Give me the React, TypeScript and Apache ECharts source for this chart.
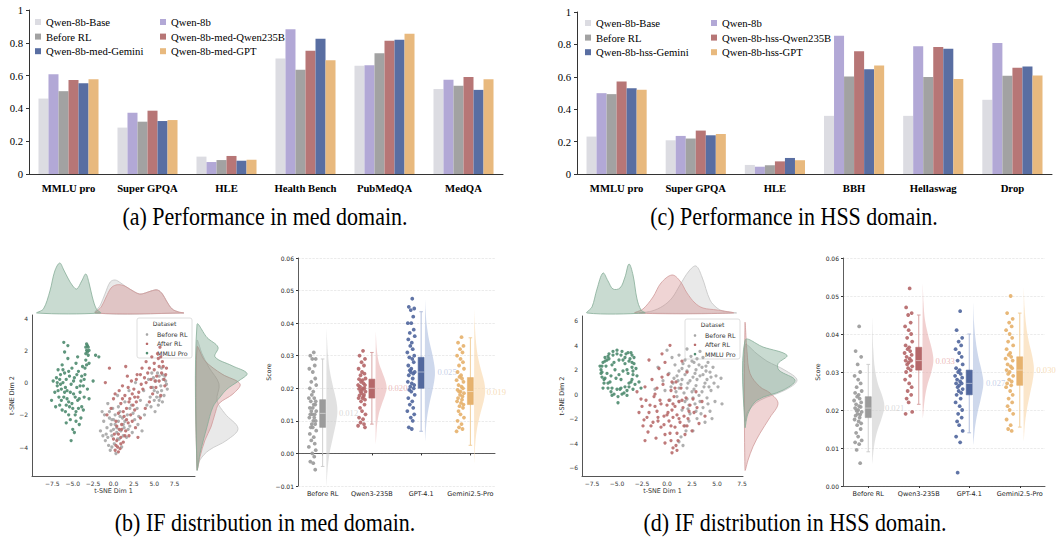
import React, { useEffect, useRef } from "react";
import * as echarts from "echarts";

const SERIF = '"Liberation Serif", "Times New Roman", serif';
const SANS = '"DejaVu Sans", "Liberation Sans", sans-serif';

// ---------------- (a)/(c) bar charts ----------------
const MED_CATEGORIES = ["MMLU pro", "Super GPQA", "HLE", "Health Bench", "PubMedQA", "MedQA"];
const HSS_CATEGORIES = ["MMLU pro", "Super GPQA", "HLE", "BBH", "Hellaswag", "Drop"];
const MED_MODELS = ["Qwen-8b-Base", "Qwen-8b", "Before RL", "Qwen-8b-med-Qwen235B", "Qwen-8b-med-Gemini", "Qwen-8b-med-GPT"];
const HSS_MODELS = ["Qwen-8b-Base", "Qwen-8b", "Before RL", "Qwen-8b-hss-Qwen235B", "Qwen-8b-hss-Gemini", "Qwen-8b-hss-GPT"];
const BAR_COLORS = ["#dcdce2", "#b2a8d6", "#a2a2a2", "#b77676", "#596ea2", "#e8b97e"];

const MED_BASE = [0.46, 0.283, 0.106, 0.705, 0.66, 0.518];
const MED_QWEN8B = [0.608, 0.374, 0.073, 0.882, 0.663, 0.575];
const MED_BEFORE_RL = [0.505, 0.319, 0.085, 0.636, 0.737, 0.538];
const MED_QWEN235B = [0.573, 0.386, 0.11, 0.752, 0.812, 0.591];
const MED_GEMINI = [0.553, 0.323, 0.081, 0.825, 0.818, 0.513];
const MED_GPT = [0.577, 0.329, 0.087, 0.694, 0.855, 0.577];

const HSS_BASE = [0.231, 0.208, 0.056, 0.359, 0.359, 0.458];
const HSS_QWEN8B = [0.499, 0.235, 0.045, 0.854, 0.788, 0.808];
const HSS_BEFORE_RL = [0.493, 0.219, 0.054, 0.602, 0.598, 0.606];
const HSS_QWEN235B = [0.571, 0.268, 0.078, 0.757, 0.784, 0.656];
const HSS_GEMINI = [0.53, 0.239, 0.099, 0.647, 0.773, 0.664];
const HSS_GPT = [0.52, 0.247, 0.085, 0.67, 0.586, 0.608];

const MED_VALUES = [MED_BASE, MED_QWEN8B, MED_BEFORE_RL, MED_QWEN235B, MED_GEMINI, MED_GPT];
const HSS_VALUES = [HSS_BASE, HSS_QWEN8B, HSS_BEFORE_RL, HSS_QWEN235B, HSS_GEMINI, HSS_GPT];

// ---------------- t-SNE scatter ----------------
const TSNE_LEGEND = ["Before RL", "After RL", "MMLU Pro"];
const TSNE_COLORS = ["#a6a6a6", "#b86b6b", "#4e8b6f"];
const KDE_FILLS = ["rgba(175,175,175,0.28)", "rgba(205,120,120,0.32)", "rgba(90,145,115,0.33)"];
const KDE_STROKES = ["#c4c4c4", "#d19a9a", "#86ad98"];

const MED_TSNE_BEFORE = [[-1.0,-3.6],[-0.6,-3.9],[-0.2,-3.3],[0.1,-3.8],[0.4,-3.1],[-0.8,-2.8],[-0.3,-2.6],[0.0,-2.9],[0.6,-2.4],[0.9,-3.0],[1.3,-2.8],[-0.5,-2.2],[0.2,-2.0],[1.1,-2.2],[1.6,-3.4],[2.0,-2.7],[-1.2,-2.4],[-1.4,-1.8],[-0.1,-1.6],[0.8,-1.8],[1.7,-2.0],[2.3,-3.1],[2.6,-2.3],[0.3,-4.4],[1.0,-4.0],[-0.7,-1.3],[1.4,-1.2],[2.9,-1.6],[3.3,-1.1],[3.7,-0.5],[4.1,-1.4],[4.5,-0.9],[4.8,-0.3],[5.0,-1.1],[5.2,0.1],[5.4,-0.6],[5.6,0.4],[5.8,-0.2],[6.0,0.5],[6.2,-0.8],[6.4,0.1],[5.5,-1.4],[4.7,0.6],[5.9,0.9],[4.3,0.2],[3.8,-2.0],[3.0,-2.6],[2.2,-1.4],[0.5,-0.8],[1.9,-0.5],[-1.6,-3.0],[-0.4,-4.2],[3.5,-3.0],[6.6,-0.4],[5.1,-1.8],[2.7,0.0],[-0.9,-3.2],[0.7,-3.5],[-0.2,-2.3],[1.2,-2.6],[5.7,-0.9],[6.1,0.2],
  [-0.7,-3.4],[-0.3,-3.0],[0.2,-2.6],[0.5,-3.5],[0.8,-2.1],[1.4,-2.4],[-1.1,-2.0],[0.0,-2.3],[-0.5,-1.8],[1.8,-2.9],[0.6,-1.5],[1.2,-3.3],[-0.2,-4.0],[0.4,-2.8],[2.4,-1.9],[5.3,-0.9],[5.9,-0.5],[6.3,0.4],[5.0,-0.5],[5.6,-1.1],[6.0,-1.2],[4.6,-1.5],[5.4,0.6],[6.5,-0.1],[4.9,0.3],[3.1,-2.1],[2.0,-1.6],[-1.3,-3.3]];
const MED_TSNE_AFTER = [[0.2,-4.2],[0.5,-4.0],[0.8,-4.1],[0.4,-3.6],[0.9,-3.4],[1.2,-3.7],[0.1,-3.2],[0.7,-2.9],[1.5,-3.0],[1.0,-2.6],[0.3,-2.4],[1.8,-2.5],[1.3,-2.1],[0.6,-1.9],[2.1,-2.0],[-0.3,-1.6],[1.6,-1.6],[2.4,-1.4],[0.9,-1.3],[2.0,-1.0],[2.8,-1.2],[1.4,-0.8],[3.1,-0.6],[2.5,-0.4],[0.2,-0.7],[1.1,-0.2],[3.4,-0.1],[2.2,0.1],[3.8,0.3],[2.9,0.5],[4.2,0.6],[1.7,0.4],[4.6,0.2],[3.5,0.9],[5.0,0.8],[5.3,0.4],[5.6,1.0],[5.9,0.6],[6.2,0.2],[5.5,1.5],[6.0,1.3],[6.3,-0.2],[5.2,-0.3],[4.8,-0.7],[4.4,-1.2],[3.9,-1.6],[3.3,-2.2],[2.7,-2.8],[1.9,-3.3],[0.0,-1.0],[-0.8,-2.0],[-1.0,0.0],[4.0,1.3],[4.7,1.6],[6.5,0.9],[5.8,-0.8],[3.0,-3.4],[1.5,1.0],[-0.5,0.9],[5.7,2.2],[0.6,-4.3],[1.1,-1.0],[2.6,-0.9],[5.1,0.1],
  [0.3,-3.9],[0.9,-3.8],[0.0,-3.5],[0.6,-3.2],[1.4,-3.3],[1.0,-2.9],[0.4,-2.7],[1.6,-2.3],[2.3,-2.4],[1.2,-1.8],[2.6,-1.7],[1.9,-1.2],[3.0,-0.9],[2.3,-0.7],[3.6,-0.4],[2.8,0.2],[4.0,0.0],[4.4,0.9],[5.0,1.2],[5.4,1.8],[5.8,1.6],[6.1,1.0],[6.4,0.5],[5.6,0.1],[4.6,-0.3],[3.3,0.5],[1.8,-0.3],[0.7,-0.5]];
const MED_TSNE_MMLU = [[-7.6,-1.1],[-7.2,-0.6],[-7.0,0.3],[-6.9,-0.2],[-6.8,0.8],[-6.6,-1.4],[-6.5,0.5],[-6.4,-0.4],[-6.3,1.1],[-6.2,0.0],[-6.1,-0.9],[-6.0,0.6],[-5.9,-1.8],[-5.8,0.2],[-5.7,-0.5],[-5.6,1.5],[-5.5,-1.2],[-5.4,0.4],[-5.3,-2.3],[-5.2,-0.1],[-5.1,0.9],[-5.0,-1.6],[-4.9,-0.7],[-4.8,0.3],[-4.7,-2.0],[-4.6,1.2],[-4.5,-0.3],[-4.4,-1.1],[-4.3,0.7],[-4.2,-2.6],[-4.1,-0.6],[-4.0,0.1],[-3.9,-1.5],[-3.8,1.0],[-3.7,-0.2],[-3.6,-0.9],[-3.5,0.5],[-3.4,1.4],[-3.3,2.0],[-3.2,2.3],[-3.4,1.8],[-3.1,1.7],[-3.3,2.4],[-3.0,1.2],[-3.5,0.9],[-3.2,-0.4],[-3.0,-1.0],[-6.7,-0.9],[-6.3,-1.7],[-5.8,-2.5],[-5.0,-2.9],[-4.8,-3.1],[-6.1,2.5],[-5.6,2.3],[-2.5,0.1],[-1.8,1.6],[-2.2,1.7],[-7.4,0.1],[-6.0,1.9],[-4.4,1.6],[-5.2,-3.6],[-4.6,-1.8],[-5.4,-1.5],[-6.5,-0.1],[-4.0,-2.2],[-3.7,-1.7],
  [-7.1,-1.5],[-6.9,0.0],[-6.6,0.2],[-6.4,-1.1],[-6.2,0.8],[-5.9,-0.3],[-5.7,-1.0],[-5.5,0.7],[-5.3,-0.6],[-5.1,-1.3],[-4.9,0.1],[-4.7,-0.9],[-4.5,0.5],[-4.3,-1.6],[-4.1,-0.2],[-3.9,0.4],[-3.6,0.2],[-3.3,1.1],[-3.1,2.2],[-3.2,1.9],[-3.4,2.2],[-3.0,2.0],[-5.8,-1.4],[-6.0,-0.6],[-4.6,-2.4],[-5.5,-2.0],[-6.8,-0.5],[-4.2,-1.0]];

const HSS_TSNE_BEFORE = [[0.5,3.0],[1.2,3.2],[1.8,2.8],[2.4,3.1],[3.0,2.9],[3.6,3.0],[4.1,2.6],[4.6,2.2],[0.8,2.4],[1.5,2.1],[2.2,2.3],[2.9,2.0],[3.5,2.2],[4.3,1.8],[4.9,1.5],[0.2,1.7],[1.0,1.5],[1.8,1.6],[2.6,1.4],[3.3,1.5],[4.0,1.2],[4.7,0.9],[-0.4,1.1],[0.6,0.9],[1.4,0.8],[2.1,0.9],[2.9,0.7],[3.7,0.6],[4.4,0.3],[5.1,0.6],[-0.2,0.3],[0.9,0.2],[1.7,0.1],[2.5,0.2],[3.2,-0.1],[4.0,-0.3],[4.8,-0.6],[0.3,-0.5],[1.2,-0.6],[2.0,-0.4],[2.8,-0.8],[3.6,-1.1],[4.3,-1.4],[1.5,-1.3],[2.3,-1.6],[3.0,-2.0],[3.8,-2.3],[1.8,-2.6],[2.6,-3.0],[1.4,-3.5],[1.6,-4.2],[1.2,-3.9],[5.4,1.3],[5.5,-0.8],[-0.9,2.2],[0.0,3.6],[3.3,3.5],[2.0,3.7],[-1.2,0.4],[4.5,-2.0],[2.7,2.6],[3.9,1.9],[1.1,1.1],[2.2,-0.9],
  [1.6,2.5],[2.5,2.7],[3.2,2.4],[3.9,2.3],[1.2,1.9],[2.0,1.9],[2.8,1.7],[3.6,1.6],[4.4,1.4],[0.7,1.3],[1.5,1.2],[2.3,1.1],[3.0,1.2],[3.8,0.9],[0.4,0.6],[1.2,0.5],[2.0,0.5],[2.7,0.4],[3.5,0.2],[4.2,0.6],[1.0,-0.2],[1.8,-0.6],[2.6,-0.3],[3.3,-0.6],[4.1,-0.8],[2.1,-1.2],[2.9,-1.4],[3.4,-1.6],[2.2,-2.2],[1.9,-3.0]];
const HSS_TSNE_AFTER = [[-2.8,-1.5],[-2.6,-0.4],[-2.4,-2.6],[-2.2,0.6],[-2.0,-1.9],[-1.9,-3.1],[-1.7,-0.9],[-1.5,1.2],[-1.4,-2.3],[-1.2,0.0],[-1.1,-3.6],[-1.0,-1.4],[-0.8,2.1],[-0.7,-0.5],[-0.6,-2.7],[-0.4,0.8],[-0.3,-1.8],[-0.2,-4.0],[0.0,-0.9],[0.1,1.6],[0.2,-2.2],[0.3,-3.2],[0.4,0.3],[0.5,-1.3],[0.6,-4.4],[0.7,-0.2],[0.8,-2.7],[0.9,1.0],[1.0,-1.7],[1.1,-3.8],[1.2,-0.6],[1.3,-2.3],[1.4,0.5],[1.6,-1.1],[1.8,-3.3],[1.9,-0.3],[2.1,-2.0],[2.3,-0.9],[2.5,-3.0],[2.7,-1.5],[2.9,0.2],[3.2,-2.4],[3.5,-0.6],[3.8,-1.8],[-0.5,3.3],[-1.8,2.8],[0.3,4.0],[-3.0,0.2],[0.5,-4.8],[1.0,-4.6],[-0.2,2.6],[2.0,1.8],[-2.2,-3.8],[1.5,2.7],[-1.3,-0.2],[0.8,0.5],[0.1,-1.5],[-0.9,-2.2],[0.6,-0.8],[1.7,-2.6],
  [-2.5,-1.0],[-2.1,-0.5],[-1.8,-1.5],[-1.6,-2.6],[-1.2,-1.0],[-0.9,-1.9],[-0.6,-0.8],[-0.3,-2.5],[0.0,-1.7],[0.2,-0.5],[0.4,-2.6],[0.6,-1.9],[0.8,-1.0],[1.0,-3.2],[1.2,-2.0],[1.5,-0.5],[1.7,-1.8],[2.0,-2.6],[2.2,-1.4],[2.6,-0.4],[-0.2,-3.3],[0.4,-3.8],[0.9,-4.2],[-1.0,0.5],[-0.5,1.4],[0.5,1.0],[-2.3,-2.1],[3.0,-1.1]];
const HSS_TSNE_MMLU = [[-6.6,2.0],[-6.5,1.4],[-6.4,2.6],[-6.3,0.9],[-6.2,3.0],[-6.0,1.7],[-5.9,0.5],[-5.8,3.3],[-5.6,0.2],[-5.5,2.4],[-5.4,3.5],[-5.3,0.0],[-5.1,1.3],[-5.0,3.6],[-4.9,-0.2],[-4.8,2.8],[-4.7,0.4],[-4.5,3.5],[-4.4,1.9],[-4.3,0.1],[-4.1,3.3],[-4.0,0.3],[-3.9,3.4],[-3.8,0.6],[-3.7,2.9],[-3.6,1.0],[-3.5,3.2],[-3.4,1.6],[-3.3,2.5],[-3.2,0.8],[-3.1,2.1],[-3.0,1.5],[-2.8,1.0],[-6.6,1.7],[-6.1,2.3],[-5.7,1.0],[-5.2,2.0],[-4.6,1.2],[-4.2,2.5],[-3.9,1.7],[-5.5,-0.1],[-4.9,-0.7],[-6.4,0.5],[-6.7,2.3],[-3.4,0.4],[-3.6,3.4],[-5.9,3.1],[-6.3,1.2],[-4.0,-0.1],[-2.6,0.5],[-3.3,3.0],[-6.0,2.8],[-4.5,0.0],[-3.5,2.2],
  [-6.5,1.8],[-6.2,2.7],[-5.8,2.9],[-5.4,3.2],[-5.0,3.3],[-4.6,3.2],[-4.2,3.0],[-3.8,2.7],[-3.5,2.6],[-3.4,1.9],[-3.5,1.2],[-3.8,0.9],[-4.2,0.6],[-4.6,0.5],[-5.0,0.4],[-5.5,0.5],[-5.9,0.9],[-6.2,1.3],[-6.5,2.3],[-4.8,1.6],[-5.3,2.6],[-4.0,2.0],[-5.6,1.5],[-4.4,2.8]];

// marginal KDEs: [x, height] (top) and [y, width] (right)
const MED_TOP_BEFORE = [[-2.2,0],[-1.6,8],[-1.0,20],[-0.4,31],[0.2,33],[0.9,30],[1.6,26],[2.4,22],[3.2,19],[3.9,20],[4.6,22],[5.4,23],[6.0,19],[6.5,12],[7.2,4],[8.0,1],[8.6,0]];
const MED_TOP_AFTER = [[-2.2,0],[-1.5,6],[-0.9,16],[-0.3,25],[0.3,28],[1.0,28],[1.6,26],[2.4,22],[3.2,19],[3.9,20],[4.6,22],[5.4,23],[6.0,19],[6.5,12],[7.2,4],[8.0,1],[8.6,0]];
const MED_TOP_MMLU = [[-9.4,0],[-8.6,4],[-7.8,22],[-7.2,42],[-6.6,50],[-6.1,43],[-5.6,35],[-5.0,27],[-4.5,24],[-3.9,32],[-3.4,39],[-3.0,30],[-2.6,16],[-2.1,4],[-1.6,0]];
const MED_RIGHT_BEFORE = [[2.6,0],[1.8,5],[0.94,12],[-0.08,22],[-1.1,20],[-1.93,28],[-2.85,41],[-3.57,30],[-4.2,12],[-4.8,3],[-5.4,0]];
const MED_RIGHT_AFTER = [[2.2,0],[1.35,8],[0.53,25],[-0.08,43],[-0.7,36],[-1.3,22],[-1.93,18],[-2.75,14],[-3.57,8],[-4.6,3],[-5.4,0]];
const MED_RIGHT_MMLU = [[3.6,0],[2.8,10],[2.2,21],[1.6,18],[1.05,35],[0.57,50],[0.12,42],[-0.4,30],[-0.9,23],[-1.5,16],[-2.75,10],[-4.4,3],[-5.4,0]];

const HSS_TOP_BEFORE = [[-2.7,0],[-1.5,2],[-0.4,7],[0.5,15],[1.3,28],[2.2,42],[2.9,47],[3.5,36],[4.3,13],[5.0,5],[5.6,2],[6.9,0]];
const HSS_TOP_AFTER = [[-3.2,0],[-2.4,4],[-1.4,16],[-0.6,30],[0.5,38],[1.3,32],[2.0,20],[2.8,10],[3.6,5],[5.0,3],[6.6,0]];
const HSS_TOP_MMLU = [[-8.0,0],[-7.5,6],[-7.0,24],[-6.4,40],[-5.9,32],[-5.4,24],[-4.7,25],[-4.2,36],[-3.8,49],[-3.4,38],[-3.0,14],[-2.6,3],[-2.2,0]];
const HSS_RIGHT_BEFORE = [[4.0,0],[3.3,12],[2.7,22],[1.96,40],[1.14,52],[0.33,40],[-0.5,15],[-1.4,3],[-2.2,0]];
const HSS_RIGHT_AFTER = [[5.8,0],[3.5,2],[1.7,5],[0.6,15],[0.1,25],[-0.75,33],[-1.9,25],[-3.2,15],[-4.3,8],[-5.4,3],[-6.2,0]];
const HSS_RIGHT_MMLU = [[4.4,0],[3.86,18],[3.18,42],[2.5,33],[1.96,34],[1.14,50],[0.33,38],[-0.5,12],[-1.6,3],[-2.7,0]];

// ---------------- raincloud plots ----------------
const RAIN_CATEGORIES = ["Before RL", "Qwen3-235B", "GPT-4.1", "Gemini2.5-Pro"];
const RAIN_COLORS = ["#9b9b9b", "#b5686a", "#52689e", "#e6b26e"];
const RAIN_WHISKER = ["#c9c9c9", "#d49a9a", "#a9b7d8", "#efc88f"];
const RAIN_VIOLIN = ["rgba(205,205,205,0.6)", "rgba(230,170,170,0.55)", "rgba(185,200,228,0.7)", "rgba(250,220,180,0.7)"];
const RAIN_LABEL_COLORS = ["#d0d0d0", "#e8a9a9", "#b7c5e3", "#f5d3a5"];
const JITTER = [0.02,-0.05,0.06,-0.01,0.04,-0.07,0.0,0.05,-0.03,0.07,-0.06,0.01,-0.02,0.03,-0.08,0.06,-0.04,0.02,0.05,-0.06,0.0,-0.03,0.07,-0.01,0.04,-0.05,0.03,-0.07,0.01,0.06,-0.02,0.05,-0.04,0.0,0.07,-0.06,0.02,-0.03,0.04,-0.08,0.06,-0.01,0.03,-0.05,0.01,0.05,-0.02,0.08];

const MED_RAIN_POINTS = [
  [0.031,0.030,0.029,0.029,0.027,0.026,0.025,0.023,0.022,0.021,0.020,0.019,0.018,0.017,0.017,0.016,0.016,0.015,0.015,0.014,0.014,0.013,0.013,0.012,0.012,0.012,0.011,0.011,0.010,0.010,0.009,0.009,0.008,0.008,0.007,0.006,0.005,0.004,0.003,0.002,0.001,0.000,-0.001,-0.0025,-0.003,-0.005],
  [0.0315,0.030,0.029,0.028,0.027,0.026,0.025,0.0245,0.024,0.023,0.0228,0.0225,0.022,0.0215,0.021,0.021,0.0205,0.020,0.020,0.0198,0.0195,0.019,0.019,0.0185,0.018,0.0178,0.0175,0.017,0.017,0.0165,0.016,0.015,0.014,0.013,0.012,0.011,0.0105,0.0095,0.009,0.0085,0.008],
  [0.0475,0.045,0.0445,0.044,0.042,0.040,0.040,0.038,0.037,0.036,0.035,0.034,0.033,0.032,0.031,0.030,0.0295,0.029,0.028,0.027,0.026,0.0255,0.025,0.025,0.0245,0.024,0.023,0.022,0.0215,0.021,0.0205,0.020,0.0195,0.019,0.018,0.017,0.016,0.015,0.014,0.013,0.012,0.011,0.010,0.008,0.0075],
  [0.0357,0.034,0.033,0.032,0.031,0.030,0.029,0.028,0.027,0.026,0.025,0.024,0.0235,0.023,0.0225,0.022,0.021,0.0205,0.020,0.0195,0.019,0.019,0.0185,0.018,0.0175,0.017,0.0165,0.016,0.0155,0.015,0.0145,0.014,0.013,0.012,0.011,0.010,0.009,0.008,0.0075,0.0068],
];
const HSS_RAIN_POINTS = [
  [0.042,0.0355,0.034,0.032,0.030,0.029,0.028,0.027,0.026,0.025,0.0245,0.024,0.0235,0.023,0.0225,0.022,0.0215,0.021,0.0208,0.0205,0.020,0.0198,0.0195,0.019,0.0188,0.0185,0.018,0.0175,0.017,0.0165,0.016,0.015,0.014,0.013,0.012,0.0115,0.011,0.0095,0.006],
  [0.052,0.047,0.0455,0.045,0.043,0.042,0.041,0.040,0.039,0.038,0.037,0.0365,0.036,0.0355,0.035,0.0345,0.034,0.0335,0.033,0.033,0.0325,0.032,0.0315,0.031,0.0305,0.030,0.029,0.028,0.027,0.026,0.025,0.024,0.023,0.022,0.0195,0.019],
  [0.046,0.041,0.039,0.038,0.037,0.036,0.035,0.034,0.033,0.032,0.031,0.0305,0.030,0.0295,0.029,0.0285,0.028,0.0275,0.027,0.027,0.0265,0.026,0.0255,0.025,0.0245,0.024,0.023,0.022,0.021,0.020,0.019,0.018,0.017,0.016,0.0145,0.013,0.0115,0.0035],
  [0.050,0.0455,0.044,0.043,0.042,0.041,0.040,0.039,0.038,0.037,0.036,0.035,0.0345,0.034,0.0335,0.033,0.032,0.0315,0.031,0.0305,0.030,0.0295,0.029,0.028,0.0275,0.027,0.0265,0.026,0.025,0.024,0.023,0.022,0.021,0.020,0.019,0.0175,0.016,0.015,0.0145],
];
// [whiskerLow, Q1, median, Q3, whiskerHigh]
const MED_BOX = [[-0.004,0.008,0.0123,0.0165,0.029],[0.009,0.017,0.020,0.0228,0.031],[0.0068,0.020,0.025,0.0295,0.0435],[0.0025,0.015,0.019,0.0233,0.0355]];
const HSS_BOX = [[0.009,0.018,0.0205,0.0235,0.032],[0.0215,0.0305,0.033,0.0365,0.045],[0.014,0.024,0.027,0.0305,0.040],[0.0155,0.0265,0.0305,0.034,0.0455]];
const MED_MEDIAN_LABELS = ["0.012", "0.020", "0.025", "0.019"];
const HSS_MEDIAN_LABELS = ["0.021", "0.033", "0.027", "0.030"];
// half-violin: [score, width]
const MED_VIOLINS = [
  [[-0.01,0],[-0.005,0.02],[0.0,0.06],[0.005,0.13],[0.01,0.2],[0.013,0.22],[0.016,0.2],[0.02,0.14],[0.025,0.07],[0.03,0.03],[0.035,0.01],[0.038,0]],
  [[0.003,0],[0.008,0.02],[0.012,0.06],[0.015,0.12],[0.018,0.19],[0.02,0.22],[0.022,0.2],[0.025,0.13],[0.028,0.06],[0.032,0.02],[0.037,0]],
  [[0.004,0],[0.008,0.02],[0.012,0.05],[0.016,0.1],[0.02,0.16],[0.024,0.2],[0.027,0.19],[0.031,0.14],[0.035,0.08],[0.04,0.03],[0.044,0.01],[0.047,0]],
  [[-0.003,0],[0.003,0.02],[0.008,0.06],[0.012,0.12],[0.016,0.19],[0.019,0.22],[0.022,0.2],[0.026,0.13],[0.03,0.07],[0.035,0.03],[0.04,0.01],[0.044,0]],
];
const HSS_VIOLINS = [
  [[0.006,0],[0.01,0.03],[0.014,0.09],[0.018,0.19],[0.021,0.24],[0.024,0.19],[0.027,0.11],[0.031,0.05],[0.036,0.02],[0.044,0]],
  [[0.018,0],[0.022,0.03],[0.026,0.08],[0.03,0.17],[0.033,0.21],[0.036,0.18],[0.04,0.1],[0.044,0.04],[0.048,0.015],[0.053,0]],
  [[0.011,0],[0.015,0.03],[0.019,0.08],[0.023,0.15],[0.027,0.2],[0.03,0.17],[0.034,0.1],[0.038,0.05],[0.043,0.015],[0.048,0]],
  [[0.012,0],[0.016,0.02],[0.02,0.06],[0.024,0.12],[0.028,0.18],[0.031,0.2],[0.034,0.17],[0.038,0.1],[0.042,0.05],[0.047,0.015],[0.052,0]],
];

const CAPTIONS = [
  "(a) Performance in med domain.",
  "(c) Performance in HSS domain.",
  "(b) IF distribution in med domain.",
  "(d) IF distribution in HSS domain.",
];

const minus = (s: string) => s.replace("-", "\u2212");

function buildOption() {
  const grid = (left: number, top: number, width: number, height: number) => ({
    left, top, width, height, containLabel: false, outerBoundsMode: "none",
  });
  const grids = [
    grid(29, 10, 474, 164), // 0 bars a
    grid(577, 12, 475, 162), // 1 bars c
    grid(32, 315, 163, 161), // 2 tsne b
    grid(32, 258, 163, 55), // 3 top kde b
    grid(197, 315, 55, 161), // 4 right kde b
    grid(298, 258, 197, 228), // 5 rain b
    grid(582, 316, 161, 160), // 6 tsne d
    grid(582, 258, 161, 55), // 7 top kde d
    grid(745, 316, 55, 160), // 8 right kde d
    grid(843, 258, 202, 228), // 9 rain d
  ];

  const barX = (gi: number, cats: string[]) => ({
    type: "category", gridIndex: gi, data: cats,
    axisLine: { lineStyle: { color: "#333", width: 1 } },
    axisTick: { show: false },
    axisLabel: { interval: 0, fontFamily: SERIF, fontWeight: "bold", fontSize: 10.7, color: "#000", margin: 8 },
  });
  const barY = (gi: number) => ({
    type: "value", gridIndex: gi, min: 0, max: 1, interval: 0.2,
    axisLine: { show: true, lineStyle: { color: "#333", width: 1 } },
    axisTick: { show: true, length: 3, lineStyle: { color: "#333" } },
    splitLine: { show: false },
    axisLabel: { fontFamily: SERIF, fontSize: 10.7, color: "#000", margin: 6 },
  });
  const hiddenVal = (gi: number, min: number, max: number) => ({ type: "value", gridIndex: gi, min, max, show: false, splitLine: { show: false } });
  const tsneAxisStyle = {
    axisLine: { show: true, onZero: false, lineStyle: { color: "#555", width: 1 } },
    axisTick: { show: false },
    splitLine: { show: false },
    nameTextStyle: { fontFamily: SANS, fontSize: 6.4, color: "#333" },
  };
  const tsneX = (gi: number, min: number, max: number) => ({
    type: "value", gridIndex: gi, min, max, ...tsneAxisStyle,
    name: "t-SNE Dim 1", nameLocation: "middle", nameGap: 12,
    axisLabel: { customValues: [-7.5, -5, -2.5, 0, 2.5, 5, 7.5], fontFamily: SANS, fontSize: 6, color: "#333", margin: 4, formatter: (v: number) => minus(v.toFixed(1)) },
  });
  const tsneY = (gi: number, min: number, max: number, ticks: number[]) => ({
    type: "value", gridIndex: gi, min, max, ...tsneAxisStyle,
    name: "t-SNE Dim 2", nameLocation: "middle", nameGap: 14,
    axisLabel: { customValues: ticks, fontFamily: SANS, fontSize: 6, color: "#333", margin: 4, formatter: (v: number) => minus(String(v)) },
  });
  const rainX = (gi: number) => ({
    type: "category", gridIndex: gi, data: RAIN_CATEGORIES, boundaryGap: true,
    axisLine: { lineStyle: { color: "#333", width: 0.8 } },
    axisTick: { show: true, length: 2, alignWithLabel: true, lineStyle: { color: "#333" } },
    axisLabel: { interval: 0, fontFamily: SANS, fontSize: 6.5, color: "#222", margin: 4 },
  });
  const rainY = (gi: number, min: number, gap: number) => ({
    type: "value", gridIndex: gi, min, max: 0.06, interval: 0.01,
    name: "Score", nameLocation: "middle", nameGap: gap,
    nameTextStyle: { fontFamily: SANS, fontSize: 6.2, color: "#222" },
    axisLine: { show: true, onZero: false, lineStyle: { color: "#333", width: 0.8 } },
    axisTick: { show: true, length: 2, lineStyle: { color: "#333" } },
    splitLine: { show: true, lineStyle: { color: "#dedede", type: "dashed", width: 0.6 } },
    axisLabel: { fontFamily: SANS, fontSize: 6, color: "#222", margin: 4, formatter: (v: number) => minus(v.toFixed(2)) },
  });

  const xAxis = [
    barX(0, MED_CATEGORIES), // 0
    barX(1, HSS_CATEGORIES), // 1
    tsneX(2, -10, 10), // 2
    hiddenVal(3, -10, 10), // 3
    hiddenVal(4, 0, 55), // 4
    rainX(5), // 5
    hiddenVal(5, -0.5, 3.5), // 6
    tsneX(6, -8.5, 7.6), // 7
    hiddenVal(7, -8.5, 7.6), // 8
    hiddenVal(8, 0, 55), // 9
    rainX(9), // 10
    hiddenVal(9, -0.5, 3.5), // 11
  ];
  const yAxis = [
    barY(0), // 0
    barY(1), // 1
    tsneY(2, -5.8, 4.2, [-4, -2, 0, 2, 4]), // 2
    hiddenVal(3, 0, 55), // 3
    hiddenVal(4, -5.8, 4.2), // 4
    rainY(5, -0.01, 27), // 5
    tsneY(6, -6.7, 6.4, [-6, -4, -2, 0, 2, 4, 6]), // 6
    hiddenVal(7, 0, 55), // 7
    hiddenVal(8, -6.7, 6.4), // 8
    rainY(9, 0, 23), // 9
  ];

  const series: any[] = [];
  const addBars = (names: string[], values: number[][], ai: number) => {
    names.forEach((name, k) => {
      series.push({
        type: "bar", name, xAxisIndex: ai, yAxisIndex: ai, data: values[k],
        barGap: "0%", barCategoryGap: "24%", itemStyle: { color: BAR_COLORS[k] }, silent: true,
      });
    });
  };
  addBars(MED_MODELS, MED_VALUES, 0);
  addBars(HSS_MODELS, HSS_VALUES, 1);

  const addTsne = (id: string, sets: number[][][], xi: number, yi: number) => {
    sets.forEach((pts, k) => {
      series.push({
        type: "scatter", name: `${id}-${TSNE_LEGEND[k]}`, xAxisIndex: xi, yAxisIndex: yi, data: pts,
        symbolSize: 3.3, itemStyle: { color: TSNE_COLORS[k], opacity: 0.9 }, silent: true,
      });
    });
  };
  addTsne("med", [MED_TSNE_BEFORE, MED_TSNE_AFTER, MED_TSNE_MMLU], 2, 2);
  addTsne("hss", [HSS_TSNE_BEFORE, HSS_TSNE_AFTER, HSS_TSNE_MMLU], 7, 6);

  const addTopKde = (id: string, curves: number[][][], xi: number, yi: number) => {
    series.push({
      type: "custom", name: `${id}-top-kde`, xAxisIndex: xi, yAxisIndex: yi, silent: true,
      data: curves.map((_, i) => [0, i]),
      renderItem: (params: any, api: any) => {
        const c = curves[params.dataIndex];
        return {
          type: "polygon",
          shape: { points: c.map(([x, h]) => api.coord([x, h])), smooth: 0.35 },
          style: { fill: KDE_FILLS[params.dataIndex], stroke: KDE_STROKES[params.dataIndex], lineWidth: 0.8 },
        };
      },
    });
  };
  const addRightKde = (id: string, curves: number[][][], xi: number, yi: number) => {
    series.push({
      type: "custom", name: `${id}-right-kde`, xAxisIndex: xi, yAxisIndex: yi, silent: true,
      data: curves.map((_, i) => [i, 0]),
      renderItem: (params: any, api: any) => {
        const c = curves[params.dataIndex];
        return {
          type: "polygon",
          shape: { points: c.map(([y, w]) => api.coord([w, y])), smooth: 0.35 },
          style: { fill: KDE_FILLS[params.dataIndex], stroke: KDE_STROKES[params.dataIndex], lineWidth: 0.8 },
        };
      },
    });
  };
  addTopKde("med", [MED_TOP_BEFORE, MED_TOP_AFTER, MED_TOP_MMLU], 3, 3);
  addRightKde("med", [MED_RIGHT_BEFORE, MED_RIGHT_AFTER, MED_RIGHT_MMLU], 4, 4);
  addTopKde("hss", [HSS_TOP_BEFORE, HSS_TOP_AFTER, HSS_TOP_MMLU], 8, 7);
  addRightKde("hss", [HSS_RIGHT_BEFORE, HSS_RIGHT_AFTER, HSS_RIGHT_MMLU], 9, 8);

  const addRain = (id: string, points: number[][], box: number[][], violins: number[][][], labels: string[], xi: number, yi: number) => {
    series.push({
      type: "custom", name: `${id}-violin`, xAxisIndex: xi, yAxisIndex: yi, silent: true, z: 1,
      data: violins.map((_, i) => [i, 0.02]),
      renderItem: (params: any, api: any) => {
        const i = params.dataIndex;
        const pts = violins[i].map(([y, w]) => api.coord([i + 0.08 + w, y]));
        return { type: "polygon", shape: { points: pts, smooth: 0.35 }, style: { fill: RAIN_VIOLIN[i], stroke: "none" } };
      },
    });
    series.push({
      type: "scatter", name: `${id}-median-labels`, xAxisIndex: xi, yAxisIndex: yi, silent: true, z: 1,
      symbolSize: 0,
      data: box.map((b, i) => ({
        value: [i + 0.33, b[2]],
        label: { color: RAIN_LABEL_COLORS[i] },
      })),
      label: {
        show: true, position: "right", distance: 0,
        formatter: (p: any) => labels[p.dataIndex],
        fontFamily: SERIF, fontSize: 8.6,
      },
      labelLayout: { hideOverlap: false },
    });
    points.forEach((ys, k) => {
      series.push({
        type: "scatter", name: `${id}-strip-${RAIN_CATEGORIES[k]}`, xAxisIndex: xi, yAxisIndex: yi, silent: true, z: 3,
        symbolSize: 3.8, itemStyle: { color: RAIN_COLORS[k], opacity: 0.92 },
        data: ys.map((y, j) => [k - 0.2 + JITTER[j % JITTER.length], y]),
      });
    });
    series.push({
      type: "custom", name: `${id}-box`, xAxisIndex: xi, yAxisIndex: yi, silent: true, z: 4,
      data: box.map((b, i) => [i, ...b]),
      encode: { x: 0, y: [1, 2, 3, 4, 5] },
      renderItem: (params: any, api: any) => {
        const i = params.dataIndex;
        const cx = api.coord([i, 0])[0];
        const half = api.size([0.06, 0])[0];
        const yMin = api.coord([i, api.value(1)])[1];
        const yQ1 = api.coord([i, api.value(2)])[1];
        const yMed = api.coord([i, api.value(3)])[1];
        const yQ3 = api.coord([i, api.value(4)])[1];
        const yMax = api.coord([i, api.value(5)])[1];
        const ws = { stroke: RAIN_WHISKER[i], lineWidth: 0.9 };
        return {
          type: "group",
          children: [
            { type: "line", shape: { x1: cx, y1: yMin, x2: cx, y2: yMax }, style: ws },
            { type: "line", shape: { x1: cx - half * 0.6, y1: yMin, x2: cx + half * 0.6, y2: yMin }, style: ws },
            { type: "line", shape: { x1: cx - half * 0.6, y1: yMax, x2: cx + half * 0.6, y2: yMax }, style: ws },
            { type: "rect", shape: { x: cx - half, y: yQ3, width: half * 2, height: yQ1 - yQ3 }, style: { fill: RAIN_COLORS[i], stroke: RAIN_COLORS[i], lineWidth: 0.6 } },
            { type: "line", shape: { x1: cx - half, y1: yMed, x2: cx + half, y2: yMed }, style: { stroke: "rgba(255,255,255,0.6)", lineWidth: 0.8 } },
          ],
        };
      },
    });
  };
  addRain("med", MED_RAIN_POINTS, MED_BOX, MED_VIOLINS, MED_MEDIAN_LABELS, 6, 5);
  addRain("hss", HSS_RAIN_POINTS, HSS_BOX, HSS_VIOLINS, HSS_MEDIAN_LABELS, 11, 9);

  const legendBase = {
    orient: "vertical", itemWidth: 6, itemHeight: 6, itemGap: 2.6, padding: 0, icon: "rect",
    selectedMode: false,
    textStyle: { fontFamily: SERIF, fontSize: 10.7, color: "#000", lineHeight: 12 },
  };
  const legend = [
    { ...legendBase, left: 35, top: 16, data: [MED_MODELS[0], MED_MODELS[2], MED_MODELS[4]] },
    { ...legendBase, left: 160, top: 16, data: [MED_MODELS[1], MED_MODELS[3], MED_MODELS[5]] },
    { ...legendBase, left: 585, top: 17, data: [HSS_MODELS[0], HSS_MODELS[2], HSS_MODELS[4]] },
    { ...legendBase, left: 711, top: 17, data: [HSS_MODELS[1], HSS_MODELS[3], HSS_MODELS[5]] },
  ];

  const tsneLegend = (x0: number, y0: number) => ({
    type: "group", x: x0, y: y0, silent: true,
    children: [
      { type: "rect", shape: { x: 0, y: 0, width: 55, height: 40, r: 2 }, style: { fill: "rgba(255,255,255,0.85)", stroke: "#d6d6d6", lineWidth: 0.8 } },
      { type: "text", x: 27.5, y: 5.5, style: { text: "Dataset", fill: "#333333", fontSize: 6, fontFamily: SANS, align: "center", verticalAlign: "middle" } },
      ...TSNE_LEGEND.map((_, i) => ({ type: "circle", shape: { cx: 10, cy: 16.5 + i * 9.3, r: 1.3 }, style: { fill: TSNE_COLORS[i] } })),
      ...TSNE_LEGEND.map((t, i) => ({ type: "text", x: 20, y: 16.5 + i * 9.3, style: { text: t, fill: "#333333", fontSize: 6.3, fontFamily: SANS, align: "left", verticalAlign: "middle" } })),
    ],
  });
  const caption = (text: string, x: number, y: number) => ({
    type: "text", x, y, scaleY: 1.12, silent: true,
    style: { text, fill: "#000", fontSize: 22, fontFamily: SERIF, align: "center", verticalAlign: "middle" },
  });

  return {
    animation: false,
    backgroundColor: "#ffffff",
    grid: grids,
    xAxis,
    yAxis,
    legend,
    series,
    graphic: [
      tsneLegend(137, 318),
      tsneLegend(685, 319),
      caption(CAPTIONS[0], 265, 217),
      caption(CAPTIONS[1], 794, 217),
      caption(CAPTIONS[2], 265, 523),
      caption(CAPTIONS[3], 795, 523),
    ],
  };
}

export default function App() {
  const ref = useRef<HTMLDivElement>(null);
  useEffect(() => {
    if (!ref.current) return;
    const chart = echarts.init(ref.current, undefined, { renderer: "svg" });
    chart.setOption(buildOption() as any);
    return () => chart.dispose();
  }, []);
  return <div ref={ref} style={{ position: "fixed", left: 0, top: 0, width: 1058, height: 539, background: "#fff" }} />;
}
